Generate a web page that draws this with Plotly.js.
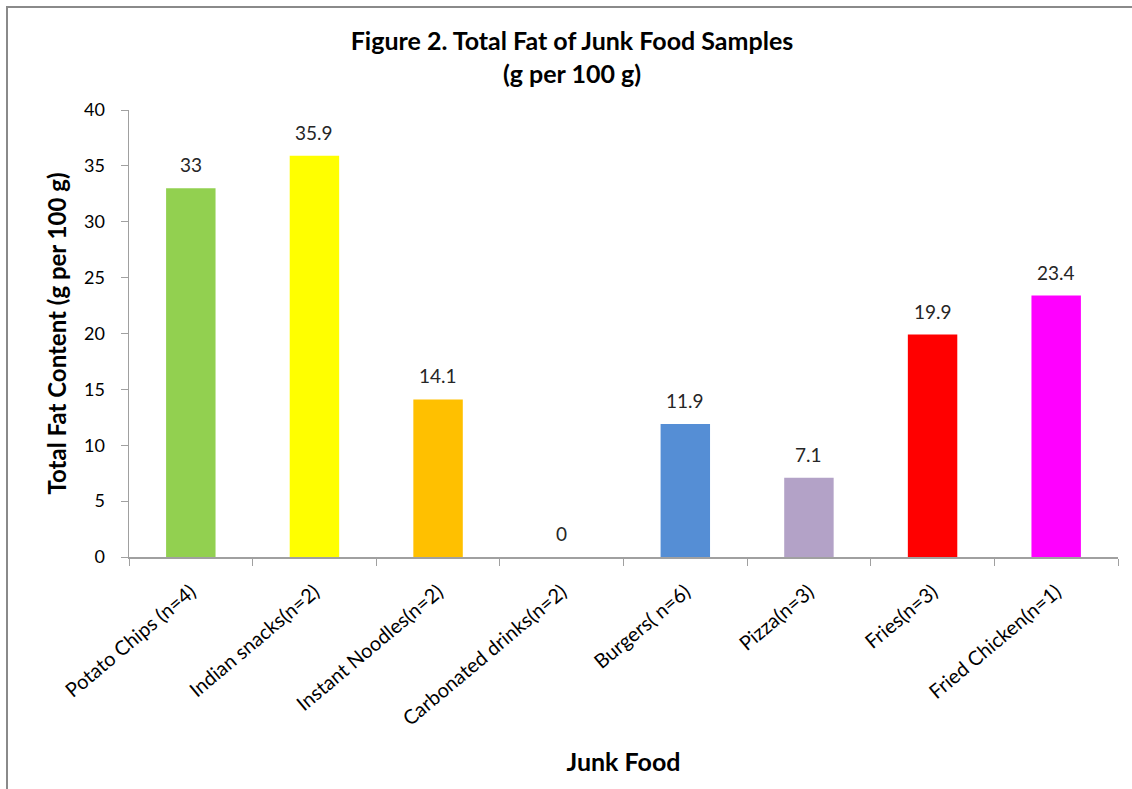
<!DOCTYPE html>
<html>
<head>
<meta charset="utf-8">
<script src="https://cdn.plot.ly/plotly-3.0.1.min.js"></script>
<style>
  html, body { margin: 0; padding: 0; background: #ffffff; }
  #chart { width: 1132px; height: 789px; }
</style>
</head>
<body>
<div id="chart"></div>
<script>
// Junk food categories with sample counts
const categories = [
  "Potato Chips (n=4)",
  "Indian snacks(n=2)",
  "Instant Noodles(n=2)",
  "Carbonated drinks(n=2)",
  "Burgers( n=6)",
  "Pizza(n=3)",
  "Fries(n=3)",
  "Fried Chicken(n=1)"
];

// Total fat, g per 100 g
const fatValues = [33, 35.9, 14.1, 0, 11.9, 7.1, 19.9, 23.4];

// One fill colour per bar
const barColors = [
  "#92D050", "#FFFF00", "#FFC000", "#4BACC6",
  "#558ED5", "#B3A2C7", "#FF0000", "#FF00FF"
];

const yTicks = [0, 5, 10, 15, 20, 25, 30, 35, 40];

const FONT = "Lato, 'Open Sans', sans-serif";

const trace = {
  type: "bar",
  x: categories,
  y: fatValues,
  width: 0.4,
  marker: { color: barColors, line: { width: 0 } },
  hoverinfo: "x+y",
  showlegend: false
};

// Value labels sitting above each bar
const valueLabels = categories.map((c, i) => ({
  x: c,
  y: fatValues[i],
  xref: "x",
  yref: "y",
  text: String(fatValues[i]),
  showarrow: false,
  yanchor: "bottom",
  yshift: 10,
  font: { family: FONT, size: 19, color: "#262626" }
}));

const layout = {
  width: 1132,
  height: 789,
  paper_bgcolor: "#ffffff",
  plot_bgcolor: "#ffffff",
  margin: { l: 129, r: 14, t: 110, b: 232 },
  font: { family: FONT, color: "#000000" },
  title: {
    text: "<b>Figure 2. Total Fat of Junk Food Samples</b><br><b>(g per 100 g)</b>",
    font: { family: FONT, size: 25, color: "#000000" },
    xref: "container",
    x: 572 / 1132,
    xanchor: "center",
    yref: "container",
    y: 1 - 50 / 789,
    yanchor: "top"
  },
  xaxis: {
    type: "category",
    range: [-0.5, categories.length - 0.5],
    tickangle: -40,
    tickfont: { family: FONT, size: 20, color: "#000000" },
    ticks: "outside",
    ticklen: 7,
    tickcolor: "#a0a0a0",
    tickson: "boundaries",
    ticklabelstandoff: 14,
    showline: true,
    linecolor: "#a0a0a0",
    linewidth: 1.5,
    showgrid: false,
    zeroline: false,
    automargin: false,
    title: {
      text: "<b>Junk Food</b>",
      font: { family: FONT, size: 25, color: "#000000" },
      standoff: 24
    }
  },
  yaxis: {
    range: [0, 40],
    tickvals: yTicks,
    ticktext: yTicks.map(String),
    tickfont: { family: FONT, size: 18, color: "#000000" },
    ticks: "outside",
    ticklen: 7,
    tickcolor: "#a0a0a0",
    ticklabelstandoff: 12,
    showline: true,
    linecolor: "#a0a0a0",
    linewidth: 1.5,
    showgrid: false,
    zeroline: false,
    automargin: false,
    title: {
      text: "<b>Total Fat Content (g per 100 g)</b>",
      font: { family: FONT, size: 24, color: "#000000" },
      standoff: 10
    }
  },
  bargap: 0.6,
  annotations: valueLabels,
  shapes: [
    {
      // chart frame, open at right and bottom
      type: "rect",
      xref: "paper",
      yref: "paper",
      x0: (7 - 129) / 989,
      x1: 1.2,
      y0: -1,
      y1: (557 - 7) / 447,
      line: { color: "#8a8a8a", width: 2 },
      fillcolor: "rgba(0,0,0,0)",
      layer: "below"
    }
  ]
};

Plotly.newPlot("chart", [trace], layout, { displayModeBar: false, staticPlot: true });
</script>
</body>
</html>
